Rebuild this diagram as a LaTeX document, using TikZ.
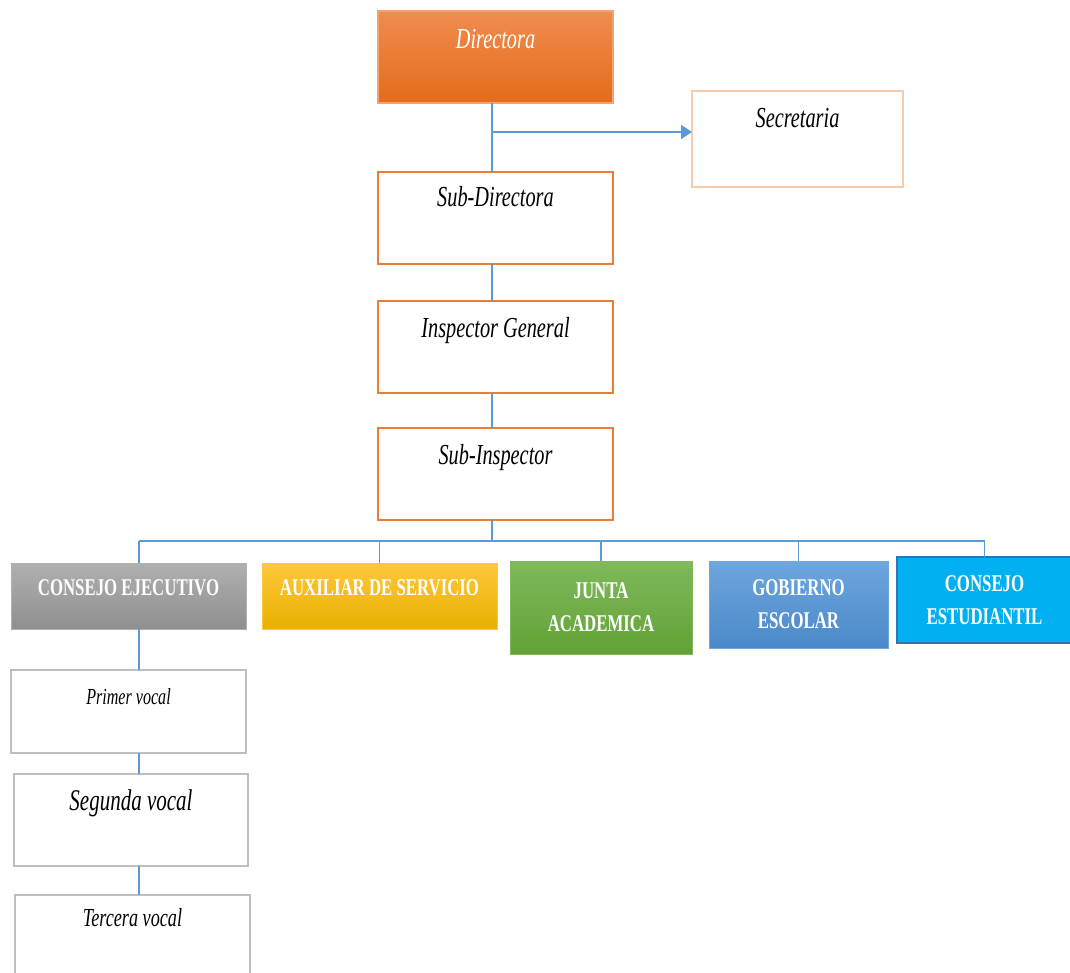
\documentclass[tikz,border=0pt]{standalone}
\usepackage{fontspec}
\setmainfont{Liberation Serif}
\newfontfamily\cond[FakeStretch=0.7]{Liberation Serif}
\usepackage{tikz}
\usetikzlibrary{arrows.meta}

\definecolor{linkblue}{HTML}{5B9BD5}
\definecolor{orgline}{HTML}{ED7D31}
\definecolor{secline}{HTML}{F8CBAD}
\definecolor{vocline}{HTML}{BFBFBF}
\definecolor{dirtop}{HTML}{F08C50}
\definecolor{dirbot}{HTML}{E46C1A}
\definecolor{graytop}{HTML}{B0B0B0}
\definecolor{graybot}{HTML}{8F8F8F}
\definecolor{goldtop}{HTML}{FFC83C}
\definecolor{goldbot}{HTML}{E8B000}
\definecolor{greentop}{HTML}{7FB95B}
\definecolor{greenbot}{HTML}{62A236}
\definecolor{bluetop}{HTML}{6EA6DE}
\definecolor{bluebot}{HTML}{4A89C8}
\definecolor{cyanfill}{HTML}{00B0F0}
\definecolor{cyanline}{HTML}{2E75B6}

\tikzset{
  box/.style={draw, rectangle, anchor=north west, line width=1.5pt, inner sep=0pt, outer sep=0pt},
  orgbox/.style={box, draw=orgline, minimum width=235pt, minimum height=92pt},
  vocbox/.style={box, draw=vocline, line width=1.2pt},
  ttl/.style={anchor=center, yshift=-#1, font=\cond\itshape\fontsize{29}{33}\selectfont},
  ttl/.default=28pt,
  unit/.style={box, line width=1pt, text=white, align=center, font=\cond\bfseries\fontsize{24}{33}\selectfont},
  link/.style={draw=linkblue, line width=1.6pt},
}

\begin{document}
\begin{tikzpicture}[x=1pt, y=-1pt]
\useasboundingbox (0,0) rectangle (1070,973);

% top of the chart
\node[orgbox, draw=dirtop!80!white, top color=dirtop, bottom color=dirbot, label={[ttl, text=white]north:Directora}] (directora) at (378,11) {};
\node[box, draw=secline, minimum width=211pt, minimum height=96pt, label={[ttl=27pt]north:Secretaria}] (secretaria) at (692,91) {};
\node[orgbox, label={[ttl=25pt]north:Sub-Directora}] (subdir) at (378,172) {};
\node[orgbox, label={[ttl=30pt]north:Inspector General}] (inspector) at (378,301) {};
\node[orgbox, label={[ttl=30pt]north:Sub-Inspector}] (subinsp) at (378,428) {};

% units
\node[unit, draw=graytop, top color=graytop, bottom color=graybot, minimum width=235pt, minimum height=66pt, text depth=16pt] (cejec) at (11,563) {CONSEJO EJECUTIVO};
\node[unit, draw=goldtop, top color=goldtop, bottom color=goldbot, minimum width=235pt, minimum height=66pt, text depth=16pt] (aux) at (262,563) {AUXILIAR DE SERVICIO};
\node[unit, draw=greentop, top color=greentop, bottom color=greenbot, minimum width=182pt, minimum height=93pt] (junta) at (510,561) {JUNTA\\ACADEMICA};
\node[unit, draw=bluetop, top color=bluetop, bottom color=bluebot, minimum width=179pt, minimum height=87pt] (gob) at (709,561) {GOBIERNO\\ESCOLAR};
\node[unit, draw=cyanline, line width=1.5pt, fill=cyanfill, minimum width=175pt, minimum height=86pt] (cest) at (897,557) {CONSEJO\\ESTUDIANTIL};

% vocales
\node[vocbox, minimum width=235pt, minimum height=83pt, label={[ttl=27pt, font=\cond\itshape\fontsize{23}{26}\selectfont]north:Primer vocal}] (primer) at (11,670) {};
\node[vocbox, minimum width=234pt, minimum height=92pt, label={[ttl=29pt, font=\cond\itshape\fontsize{30}{34}\selectfont]north:Segunda vocal}] (segunda) at (14,774) {};
\node[vocbox, minimum width=235pt, minimum height=95pt, label={[ttl=23pt, font=\cond\itshape\fontsize{26}{30}\selectfont]north:Tercera vocal}] (tercera) at (15,895) {};

% connectors
\coordinate (trunk) at (492,0);
\coordinate (split) at (492,132);
\coordinate (bus) at (492,541);
\coordinate (spine) at (139,0);

\draw[link] (directora.south -| trunk) -- (subdir.north -| trunk);
\draw[link, -{Triangle[length=11pt, width=14pt]}] (split) -- (split -| secretaria.west);
\draw[link] (subdir.south -| trunk) -- (inspector.north -| trunk);
\draw[link] (inspector.south -| trunk) -- (subinsp.north -| trunk);
\draw[link] (subinsp.south -| trunk) -- (bus);
\draw[link] (bus -| spine) -- (bus -| cest.north);
\draw[link] (bus -| spine) -- (cejec.north -| spine);
\foreach \n in {aux,junta,gob,cest}
  \draw[link] (bus -| \n.north) -- (\n.north);
\draw[link] (cejec.south -| spine) -- (primer.north -| spine);
\draw[link] (primer.south -| spine) -- (segunda.north -| spine);
\draw[link] (segunda.south -| spine) -- (tercera.north -| spine);
\end{tikzpicture}
\end{document}
